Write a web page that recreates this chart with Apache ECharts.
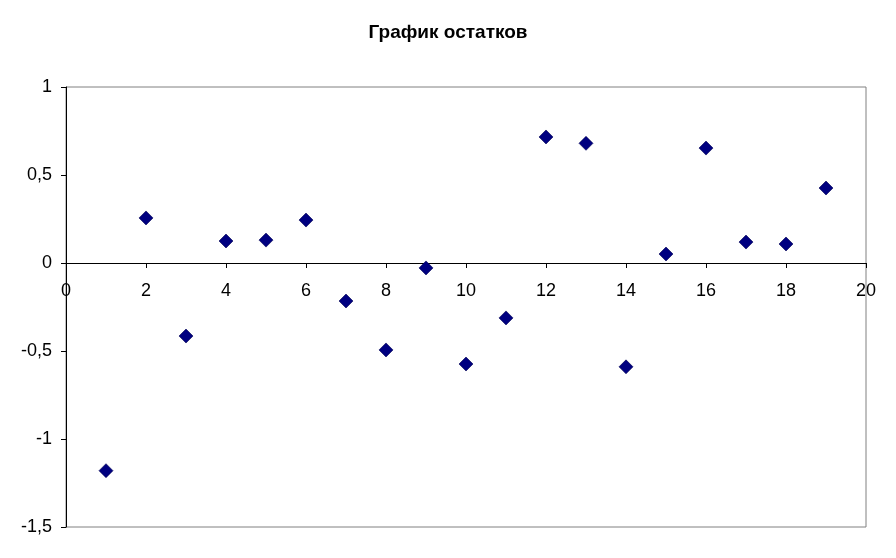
<!DOCTYPE html>
<html><head><meta charset="utf-8">
<script src="https://cdn.jsdelivr.net/npm/echarts@6/dist/echarts.min.js"></script>
<style>html,body{margin:0;padding:0;background:#fff}#c{width:896px;height:558px}</style>
</head><body><div id="c"></div>
<script>
const xValues = [1,2,3,4,5,6,7,8,9,10,11,12,13,14,15,16,17,18,19];
const residuals = [-1.18,0.256,-0.415,0.125,0.13,0.244,-0.216,-0.494,-0.028,-0.574,-0.312,0.716,0.68,-0.59,0.051,0.653,0.119,0.108,0.426];
const titleText = 'График остатков';
const chart = echarts.init(document.getElementById('c'));
const fmt = v => String(v).replace('.', ',');
chart.setOption({
  backgroundColor:'#fff',
  animation:false,
  title:{text:titleText,left:'center',top:18,textStyle:{fontFamily:'Liberation Sans',fontSize:19,fontWeight:'bold',color:'#000'}},
  grid:{left:66,right:30,top:87,bottom:31,show:true,borderColor:'#808080',borderWidth:1,backgroundColor:'#fff'},
  xAxis:{type:'value',min:0,max:20,interval:2,position:'bottom',
    offset:-264,
    axisLine:{show:true,onZero:false,lineStyle:{color:'#000',width:1}},
    axisTick:{show:true,inside:false,length:5,lineStyle:{color:'#000'}},
    axisLabel:{color:'#000',fontFamily:'Liberation Sans',fontSize:18,margin:19},
    splitLine:{show:false}},
  yAxis:{type:'value',min:-1.5,max:1,interval:0.5,
    axisLine:{show:true,onZero:false,lineStyle:{color:'#000',width:1}},
    axisTick:{show:true,length:5,lineStyle:{color:'#000'}},
    axisLabel:{color:'#000',fontFamily:'Liberation Sans',fontSize:18,margin:14,formatter:fmt},
    splitLine:{show:false}},
  series:[{type:'scatter',symbol:'diamond',symbolSize:14,
    itemStyle:{color:'#000080',opacity:1,borderColor:'#000050',borderWidth:0.6},
    data:xValues.map((x,i)=>[x,residuals[i]])}]
});
</script></body></html>
